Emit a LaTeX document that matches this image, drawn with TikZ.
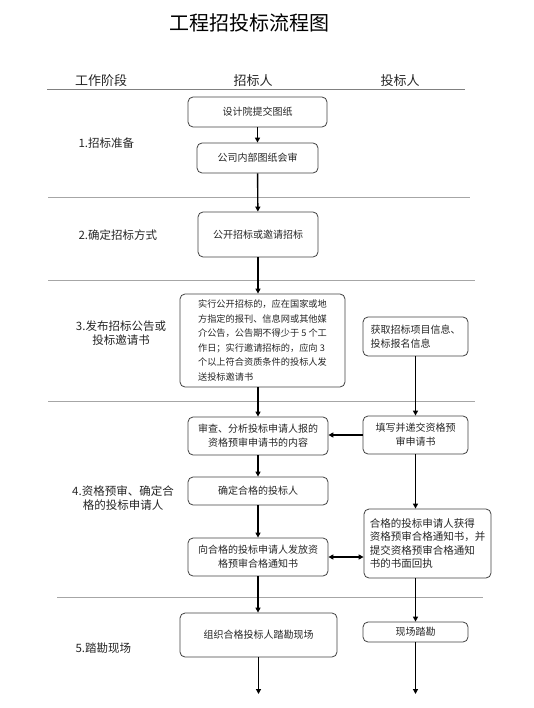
\documentclass[tikz,border=0pt]{standalone}
\usepackage{fontspec}
\setmainfont{Noto Sans CJK SC}
\usetikzlibrary{arrows.meta}

\begin{document}
\begin{tikzpicture}[x=1pt, y=-1pt,
    stepbox/.style={draw=black!75, line width=0.8pt, rounded corners=5pt,
      font=\fontsize{10}{14}\selectfont, align=center, inner sep=2pt, text=black!85},
    notebox/.style={stepbox, align=left},
    flow/.style={line width=1.4pt, -{Triangle[length=5pt,width=5pt]}},
    both/.style={line width=1.4pt, {Triangle[length=5pt,width=5pt]}-{Triangle[length=5pt,width=5pt]}},
    lane/.style={draw=black!35, line width=0.8pt},
    head/.style={font=\fontsize{13}{15}\selectfont, text=black!85},
    stage/.style={font=\fontsize{11.5}{14}\selectfont, text=black!85, align=center}]
    \useasboundingbox (0,0) rectangle (534,708);

    % Title and column headers
    \node (title) at (249,23) {\fontsize{20}{24}\selectfont 工程招投标流程图};
    \node[head] (hstage) at (101,81) {工作阶段};
    \node[head] (howner) at (253,81) {招标人};
    \node[head] (hbidder) at (400,81) {投标人};

    % Lane separators
    \draw[lane, draw=black!50] (47,89) -- (465,89);
    \draw[lane] (48,197) -- (470,197);
    \draw[lane] (48,280) -- (475,280);
    \draw[lane] (48,401) -- (475,401);
    \draw[lane] (57,597) -- (483,597);

    % Stages
    \node[stage, anchor=west] (s1) at (75,143) {1.招标准备};
    \node[stage, anchor=west] (s2) at (75,235) {2.确定招标方式};
    \node[stage] (s3) at (121,333) {3.发布招标公告或\\投标邀请书};
    \node[stage] (s4) at (123,498) {4.资格预审、确定合\\格的投标申请人};
    \node[stage, anchor=west] (s5) at (72,648) {5.踏勘现场};

    % Owner column
    \node[stepbox, minimum width=139pt, minimum height=30pt] (design) at (257.5,112) {设计院提交图纸};
    \node[stepbox, minimum width=121pt, minimum height=30pt] (review) at (257.5,158) {公司内部图纸会审};
    \node[stepbox, minimum width=120pt, minimum height=45pt] (mode) at (258,234.5) {公开招标或邀请招标};
    \node[notebox, minimum width=165pt, minimum height=93pt,
      font=\fontsize{9.2}{14.5}\selectfont] (notice) at (262.5,340.5)
      {实行公开招标的，应在国家或地\\方指定的报刊、信息网或其他媒\\介公告，公告期不得少于 5 个工\\作日；实行邀请招标的，应向 3\\个以上符合资质条件的投标人发\\送投标邀请书};
    \node[stepbox, minimum width=140pt, minimum height=38pt] (check) at (258,436) {审查、分析投标申请人报的\\资格预审申请书的内容};
    \node[stepbox, minimum width=140pt, minimum height=28pt] (qualify) at (258,491) {确定合格的投标人};
    \node[stepbox, minimum width=140pt, minimum height=38pt] (issue) at (258,557) {向合格的投标申请人发放资\\格预审合格通知书};
    \node[stepbox, minimum width=157pt, minimum height=44pt] (survey) at (258.5,635) {组织合格投标人踏勘现场};

    % Bidder column
    \node[notebox, minimum width=105pt, minimum height=39pt] (info) at (415.5,336.5) {获取招标项目信息、\\投标报名信息};
    \node[stepbox, minimum width=105pt, minimum height=38pt] (apply) at (415.5,435) {填写并递交资格预\\审申请书};
    \node[notebox, minimum width=127pt, minimum height=69pt,
      font=\fontsize{10.5}{13.5}\selectfont] (receipt) at (427.5,543.5)
      {合格的投标申请人获得\\资格预审合格通知书，并\\提交资格预审合格通知\\书的书面回执};
    \node[stepbox, minimum width=105pt, minimum height=20pt] (visit) at (415.5,632) {现场踏勘};

    \coordinate (end1) at (258.5,694);
    \coordinate (end2) at (415.5,694);

    % Connectors
    \draw[flow] (design) -- (review);
    \draw[flow] (review) -- (mode);
    \draw[flow] (mode.south) -- (mode.south |- notice.north);
    \draw[flow] (notice.south -| check.north) -- (check.north);
    \draw[flow] (info) -- (apply);
    \draw[flow] (apply.west) -- (apply.west -| check.east);
    \draw[flow] (check) -- (qualify);
    \draw[flow] (qualify) -- (issue);
    \draw[flow] (apply.south) -- (apply.south |- receipt.north);
    \draw[both] (issue.east) -- (issue.east -| receipt.west);
    \draw[flow] (issue.south) -- (issue.south |- survey.north);
    \draw[flow] (visit.north |- receipt.south) -- (visit.north);
    \draw[flow] (survey.south) -- (end1);
    \draw[flow] (visit.south) -- (end2);

\end{tikzpicture}
\end{document}
